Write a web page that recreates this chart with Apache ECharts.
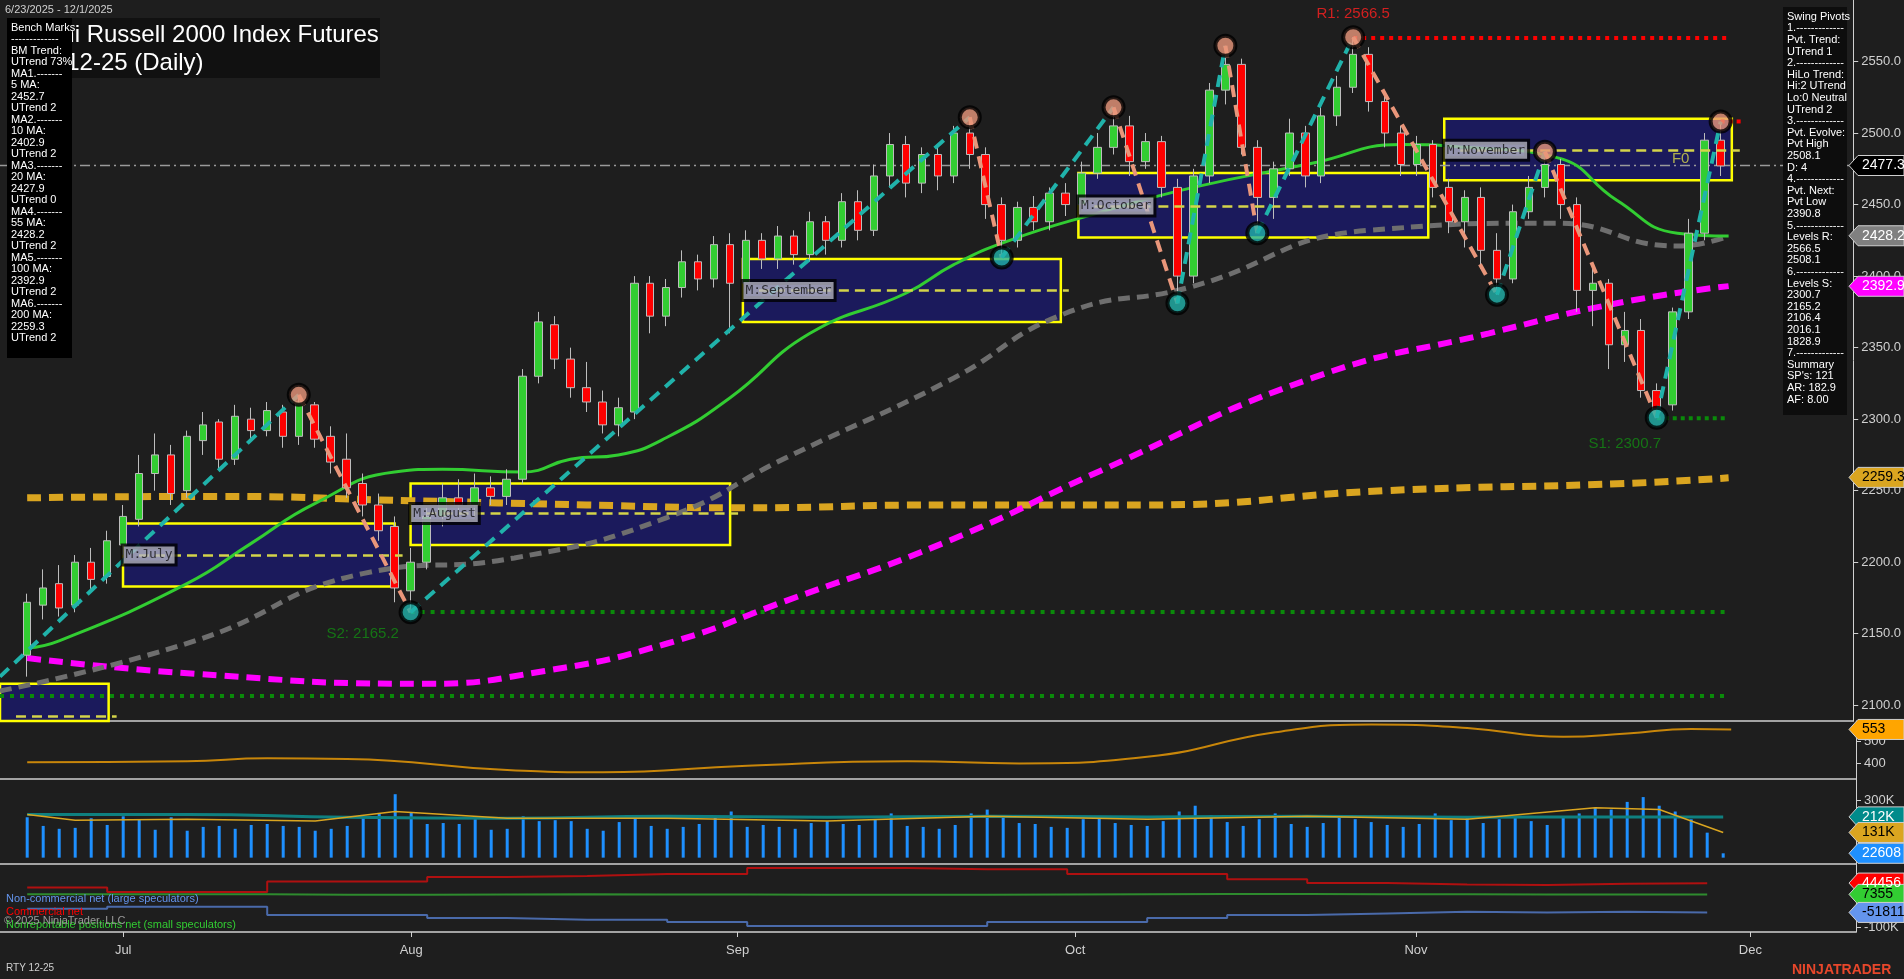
<!DOCTYPE html>
<html>
<head>
<meta charset="utf-8">
<script src="https://cdn.jsdelivr.net/npm/echarts@6/dist/echarts.min.js"></script>
<style>
html,body{margin:0;padding:0;background:#1e1e1e;}
#chart{width:1904px;height:979px;}
</style>
</head>
<body>
<div id="chart"></div>
<script>
// bars are numbered 0..106 from 6/23/2025, one per session
var candles = [ // [open, close, low, high]
[2135,2172,2120,2178],[2170,2182,2160,2195],[2185,2168,2162,2198],[2170,2200,2165,2205],[2200,2188,2180,2210],
[2190,2215,2185,2222],[2212,2232,2205,2240],[2230,2262,2225,2275],[2262,2275,2250,2290],[2275,2248,2240,2282],
[2250,2288,2245,2292],[2285,2296,2275,2305],[2298,2272,2265,2300],[2272,2302,2268,2310],[2300,2292,2285,2308],
[2292,2306,2288,2312],[2305,2288,2280,2310],[2288,2312,2282,2317],[2310,2286,2280,2312],[2288,2270,2262,2295],
[2272,2252,2245,2290],[2255,2240,2232,2262],[2240,2222,2215,2248],[2225,2182,2172,2232],[2180,2200,2165,2210],
[2200,2232,2195,2238],[2232,2245,2225,2255],[2245,2240,2235,2258],[2240,2252,2232,2262],[2252,2246,2240,2260],
[2246,2258,2240,2265],[2258,2330,2255,2335],[2330,2368,2325,2375],[2366,2342,2335,2372],[2342,2322,2315,2350],
[2322,2312,2305,2340],[2312,2296,2290,2320],[2296,2308,2288,2315],[2305,2395,2300,2400],[2395,2372,2360,2400],
[2372,2392,2365,2398],[2392,2410,2385,2418],[2410,2398,2390,2415],[2398,2422,2392,2428],[2422,2395,2360,2430],
[2395,2425,2390,2432],[2425,2412,2405,2430],[2412,2428,2405,2435],[2428,2415,2408,2432],[2415,2438,2410,2445],
[2438,2425,2415,2442],[2425,2452,2420,2458],[2452,2432,2425,2460],[2432,2470,2428,2478],[2470,2492,2462,2500],
[2492,2465,2455,2498],[2465,2485,2458,2490],[2485,2470,2460,2492],[2470,2500,2465,2505],[2500,2485,2475,2511],
[2485,2450,2440,2490],[2450,2425,2413,2455],[2425,2448,2420,2452],[2448,2438,2432,2456],[2438,2458,2432,2462],
[2458,2450,2442,2465],[2450,2472,2445,2480],[2472,2490,2468,2500],[2490,2505,2485,2518],[2505,2480,2470,2512],
[2480,2494,2475,2500],[2494,2462,2455,2498],[2462,2400,2381,2468],[2400,2470,2395,2475],[2470,2530,2465,2535],
[2530,2548,2520,2561],[2548,2490,2485,2552],[2490,2455,2430,2495],[2455,2475,2440,2480],[2475,2500,2470,2510],
[2500,2470,2462,2505],[2470,2512,2465,2520],[2512,2532,2505,2540],[2532,2555,2528,2567],[2555,2522,2515,2560],
[2522,2500,2490,2530],[2500,2478,2470,2505],[2478,2492,2470,2498],[2492,2462,2455,2495],[2462,2438,2430,2468],
[2438,2455,2420,2460],[2455,2418,2405,2462],[2418,2398,2387,2430],[2398,2445,2395,2450],[2445,2462,2440,2470],
[2462,2478,2455,2487],[2478,2450,2440,2482],[2450,2390,2375,2455],[2390,2395,2365,2405],[2395,2352,2335,2398],
[2352,2362,2340,2375],[2362,2320,2315,2370],[2320,2305,2301,2325],[2310,2375,2306,2378],[2375,2430,2370,2440],
[2430,2495,2425,2500],[2495,2477,2470,2508]
];
var volumeK = [210,165,150,155,205,170,215,200,145,210,140,160,165,150,170,175,165,160,140,150,165,210,230,330,235,
175,180,175,200,145,150,215,190,195,190,150,140,185,220,165,150,160,175,210,240,160,170,160,150,180,190,175,170,200,
230,165,160,150,170,230,250,210,180,175,160,155,200,210,180,170,165,190,240,270,220,185,165,200,230,175,160,180,210,
200,185,170,160,175,230,195,210,180,200,215,190,170,210,230,260,250,290,315,270,240,200,130,22.6];

// moving averages, sampled [bar, value]
var ma20 = [[0,2140],[2,2145],[10,2185],[14,2213],[18,2241],[23,2263],[26,2265],[31,2263],[34,2272],[37,2275],[40,2287],
[44,2315],[49,2360],[55,2388],[58,2408],[61.5,2425],[67,2444],[73,2462],[80.5,2479],[86,2492],[90,2490],[95.7,2483],[99.5,2453],[103.3,2430],[106.5,2428]];
var ma55 = [[-1.7,2110],[10.5,2145],[21,2192],[30.5,2203],[40,2231],[47.5,2273],[57.7,2327],[65,2374],[72.7,2392],[84,2432],[95.7,2437],[103.3,2421],[106.5,2428]];
var ma100 = [[0,2133],[10.5,2122],[24.8,2115],[32.4,2124],[40,2143],[47.5,2173],[57.7,2215],[67.2,2264],[80.5,2329],[91.5,2360],[99.5,2381],[106.5,2393]];
var ma200 = [[0,2245],[12,2246],[24,2243],[35,2240],[45,2238],[57,2240],[70,2240],[85,2250],[100,2255],[106.5,2259]];

var pivots = [[-1.7,2120],[17,2317],[24,2165],[59,2511],[61,2413],[68,2518],[72,2381],[75,2561],[77,2430],[83,2567],[92,2387],[95,2487],[102,2301],[106,2508]];

// monthly boxes [name, fromBar, toBar, low, high, mid]
var months = [
  ['', -1.7, 5.1, 2080, 2115, 2092],
  ['M:July', 6, 23, 2183, 2227, 2205],
  ['M:August', 24, 44, 2212, 2255, 2234],
  ['M:September', 44.8, 64.7, 2368, 2412, 2390],
  ['M:October', 65.8, 87.7, 2427, 2472, 2449],
  ['M:November', 88.7, 106.7, 2467, 2510, 2488]
];

var osc = [[0,405],[10,410],[15,423],[20,420],[30,370],[36,360],[45,390],[55,410],[62,400],[70,430],[78,540],[84,575],[90,560],[96,520],[100,535],[104,555],[106.5,553]];
var volAvgTeal = [[0,225],[10,225],[20,210],[30,205],[40,215],[50,210],[60,215],[70,212],[80,215],[90,210],[100,212],[106,212]];
var volAvgGold = [[0,225],[3,195],[10,200],[18,190],[23,240],[30,205],[40,205],[50,190],[60,215],[70,200],[80,215],[90,200],[98,260],[102,250],[106,131]];

var cotWeeks = [0,5,10,15,20,25,30,35,40,45,50,55,60,65,70,75,80,85,90,95,100,105];
var cotComm = [30,15,15,50,50,64,68,74,74,94,94,90,90,74,74,57,45,40,38,42,44,44.5];
var cotNonRep = [8,8,8,6,6,7,8,7,7,6,6,6,7,8,9,9,8,8,7,7,7,7.4];
var cotNonComm = [-40,-33,-33,-60,-60,-70,-76,-76,-83,-96,-96,-96,-83,-83,-70,-60,-55,-50,-52,-50,-52,-51.8];

var levelLabels = [[83,2583,'R1: 2566.5','#ff2020'],[21,2150,'S2: 2165.2','#138a13'],[100,2283,'S1: 2300.7','#138a13'],[103.5,2482,'F0','#d4d44a']];

var monthTicks = [6, 24, 44.4, 65.5, 86.8, 107.7];
var monthNames = ['Jul','Aug','Sep','Oct','Nov','Dec'];

var XMIN = -1.7, XMAX = 114.3;
var axisText = '#d0d0d0';

var grids = [
  {left:0, right:48, top:0, height:721},
  {left:0, right:48, top:721, height:58},
  {left:0, right:48, top:779, height:85},
  {left:0, right:48, top:864, height:68}
];
var xAxes = grids.map(function(g, i){
  return {type:'value', gridIndex:i, min:XMIN, max:XMAX,
    axisLine:{show:true, onZero:false, lineStyle:{color:'#d0d0d0', width:1.5}},
    splitLine:{show:false},
    axisTick:{show:i===3, customValues:monthTicks, lineStyle:{color:'#d0d0d0'}},
    axisLabel:{show:i===3, customValues:monthTicks, color:axisText, fontSize:13, margin:12,
      formatter:function(v){ var k = monthTicks.indexOf(v); return k>=0 ? monthNames[k] : ''; }}};
});
function yAx(i, min, max, ticks, fmt){
  return {type:'value', gridIndex:i, position:'right', min:min, max:max, scale:true,
    axisLine:{show:true, onZero:false, lineStyle:{color:'#d0d0d0'}}, splitLine:{show:false},
    axisTick:{show:true, customValues:ticks, lineStyle:{color:'#d0d0d0'}},
    axisLabel:{customValues:ticks, color:axisText, fontSize:13, formatter:fmt}};
}
var yAxes = [
  yAx(0, 2089, 2593, [2100,2150,2200,2250,2300,2350,2400,2450,2500,2550], function(v){return v.toFixed(1);}),
  yAx(1, 330, 591, [400,500], function(v){return String(v);}),
  yAx(2, -33, 409, [100,300], function(v){return v+'K';}),
  yAx(3, -116, 107, [-100], function(v){return v+'K';})
];

var series = [];
// monthly boxes
months.forEach(function(m){
  series.push({type:'line', xAxisIndex:0, yAxisIndex:0, data:[], silent:true,
    markArea:{silent:true, itemStyle:{color:'#1b1a5c', borderColor:'#ffff00', borderWidth:2.5},
      data:[[{coord:[m[1], m[3]]},{coord:[m[2], m[4]]}]]},
    markLine:{silent:true, symbol:'none', label:{show:false}, lineStyle:{color:'#d4d44a', type:[10,6], width:2.5},
      data:[[{coord:[m[1]+1, m[5]]},{coord:[m[2]+0.5, m[5]]}]]}, z:1});
});
// support / resistance and last price lines
function hline(y, x0, x1, color, type, w){
  return {type:'line', data:[[x0,y],[x1,y]], symbol:'none', silent:true, lineStyle:{color:color, type:type, width:w}, z:2};
}
series.push(hline(2106.4, XMIN, 106.5, '#0a8a0a', [4,6], 4));
series.push(hline(2165.2, 24, 106.5, '#0a8a0a', [4,6], 4));
series.push(hline(2300.7, 102, 106.5, '#0a8a0a', [4,4], 4));
series.push(hline(2566.5, 83, 106.5, '#ff0000', [4,5], 4));
series.push(hline(2508.1, 106, 107.5, '#ff0000', [4,4], 4));
series.push(hline(2477.3, XMIN, XMAX, '#9a9a9a', [10,4,2,4], 1.5));

// moving averages
function maLine(d, color, w, type){
  return {type:'line', data:d, smooth:true, symbol:'none', silent:true, lineStyle:{color:color, width:w, type:type}, z:3};
}
series.push(maLine(ma200, '#daa520', 7, [14,8]));
series.push(maLine(ma100, '#ff00ff', 6, [14,8]));
series.push(maLine(ma55, '#6e6e6e', 5, [12,7]));
series.push(maLine(ma20, '#32cd32', 3, 'solid'));

// candles
series.push({type:'candlestick', xAxisIndex:0, yAxisIndex:0, barWidth:8, z:4,
  data:candles.map(function(c, i){ return [i, c[0], c[1], c[2], c[3]]; }),
  encode:{x:0, y:[1,2,3,4]},
  itemStyle:{color:'#32cd32', color0:'#ff0000', borderColor:'#bdbdbd', borderColor0:'#bdbdbd', borderWidth:1}});

// zigzag legs
for (var i = 0; i < pivots.length - 1; i++) {
  var up = pivots[i+1][1] > pivots[i][1];
  series.push({type:'line', data:[pivots[i], pivots[i+1]], symbol:'none', silent:true, z:5,
    lineStyle:{color: up ? '#20b2aa' : '#e9967a', width:4, type:[12,8]}});
}
series.push({type:'scatter', data:pivots.slice(1).map(function(p, i){
    var hi = i % 2 === 0;
    return {value:p, itemStyle:{color: hi ? '#e9967a' : '#20b2aa', borderColor:'#000', borderWidth:4}};
  }), symbolSize:20, z:6, silent:true});

// month labels
series.push({type:'scatter', symbolSize:0, z:7, silent:true,
  data:months.filter(function(m){return m[0];}).map(function(m){ return [m[1]+0.1, m[5], m[0]]; }),
  label:{show:true, position:'right', offset:[-6,0], formatter:function(p){return p.data[2];},
    fontFamily:'DejaVu Sans Mono', fontSize:13, color:'#111', backgroundColor:'#b4b4c4',
    borderColor:'#000', borderWidth:3, padding:[2,2]}});
// level labels
series.push({type:'scatter', symbolSize:0, z:7, silent:true,
  data:levelLabels.map(function(d){
    return {value:[d[0], d[1]], name:d[2], label:{color:d[3]}};
  }),
  label:{show:true, position:'inside', formatter:function(p){return p.name;}, fontSize:15}});

// oscillator panel
series.push({type:'line', xAxisIndex:1, yAxisIndex:1, data:osc, smooth:true, symbol:'none', lineStyle:{color:'#c8860a', width:2}});
// volume panel
series.push({type:'bar', xAxisIndex:2, yAxisIndex:2, barWidth:3, data:volumeK.map(function(v, i){return [i, v];}), itemStyle:{color:'#1e90ff'}});
series.push({type:'line', xAxisIndex:2, yAxisIndex:2, data:volAvgTeal, smooth:true, symbol:'none', lineStyle:{color:'#0f8080', width:3}});
series.push({type:'line', xAxisIndex:2, yAxisIndex:2, data:volAvgGold, symbol:'none', lineStyle:{color:'#daa520', width:1.5}});
// COT panel
function cot(vals, color){
  return {type:'line', xAxisIndex:3, yAxisIndex:3, step:'end', symbol:'none', lineStyle:{color:color, width:2},
    data:cotWeeks.map(function(w, i){ return [w, vals[i]]; })};
}
series.push(cot(cotComm, '#b01010'));
series.push(cot(cotNonRep, '#2e8b2e'));
series.push(cot(cotNonComm, '#4a6aaa'));

var chart = echarts.init(document.getElementById('chart'));
chart.setOption({
  backgroundColor:'#1e1e1e', animation:false,
  grid:grids, xAxis:xAxes, yAxis:yAxes, series:series
});

// right-hand value tags
var tags = [
  [0, 2477.3, '2477.3', '#000000', '#ffffff'],
  [0, 2428.2, '2428.2', '#808080', '#ffffff'],
  [0, 2392.9, '2392.9', '#ff00ff', '#ffffff'],
  [0, 2259.3, '2259.3', '#daa520', '#000000'],
  [1, 553, '553', '#ffa500', '#000000'],
  [2, 212, '212K', '#008b8b', '#ffffff'],
  [2, 131, '131K', '#daa520', '#000000'],
  [2, 22.6, '22608', '#1e90ff', '#ffffff'],
  [3, 44.456, '44456', '#ff0000', '#ffffff'],
  [3, 7.355, '7355', '#32cd32', '#000000'],
  [3, -51.811, '-51811', '#6495ed', '#000000']
];
var g = [];
tags.forEach(function(t){
  var y = chart.convertToPixel({yAxisIndex:t[0]}, t[1]);
  g.push({type:'polygon', z:100, shape:{points:[[1849,y],[1858,y-10],[1904,y-10],[1904,y+10],[1858,y+10]]},
    style:{fill:t[3], stroke:'#cfcfcf', lineWidth:1}});
  g.push({type:'text', z:101, x:1862, y:y, style:{text:t[2], fill:t[4], font:'14px Arial', verticalAlign:'middle'}});
});
var bench = 'Bench Marks\n-------------\nBM Trend:\nUTrend 73%\nMA1.-------\n5 MA:\n2452.7\nUTrend 2\nMA2.-------\n10 MA:\n2402.9\nUTrend 2\nMA3.-------\n20 MA:\n2427.9\nUTrend 0\nMA4.-------\n55 MA:\n2428.2\nUTrend 2\nMA5.-------\n100 MA:\n2392.9\nUTrend 2\nMA6.-------\n200 MA:\n2259.3\nUTrend 2';
var swing = 'Swing Pivots\n1.-------------\nPvt. Trend:\nUTrend 1\n2.-------------\nHiLo Trend:\nHi:2 UTrend\nLo:0 Neutral\nUTrend 2\n3.-------------\nPvt. Evolve:\nPvt High\n2508.1\nD: 4\n4.-------------\nPvt. Next:\nPvt Low\n2390.8\n5.-------------\nLevels R:\n2566.5\n2508.1\n6.-------------\nLevels S:\n2300.7\n2165.2\n2106.4\n2016.1\n1828.9\n7.-------------\nSummary\nSP\'s: 121\nAR: 182.9\nAF: 8.00';
g.push(
  {type:'rect', z:90, shape:{x:70, y:18, width:310, height:60}, style:{fill:'#111'}},
  {type:'text', z:91, x:12, y:23, style:{text:'E-mini Russell 2000 Index Futures', fill:'#fff', font:'24px Arial'}},
  {type:'text', z:91, x:12, y:51, style:{text:'RTY 12-25 (Daily)', fill:'#fff', font:'24px Arial'}},
  {type:'text', z:91, x:5, y:4, style:{text:'6/23/2025 - 12/1/2025', fill:'#d0d0d0', font:'11px Arial'}},
  {type:'rect', z:92, shape:{x:7, y:18, width:65, height:340}, style:{fill:'#000'}},
  {type:'text', z:93, x:11, y:22, style:{text:bench, fill:'#fff', font:'11px Arial', lineHeight:11.5}},
  {type:'rect', z:92, shape:{x:1783, y:7, width:64, height:408}, style:{fill:'#0d0d0d'}},
  {type:'text', z:93, x:1787, y:11, style:{text:swing, fill:'#fff', font:'11px Arial', lineHeight:11.6}},
  {type:'text', z:93, x:6, y:893, style:{text:'Non-commercial net (large speculators)', fill:'#6495ed', font:'11px Arial'}},
  {type:'text', z:93, x:6, y:906, style:{text:'Commercial net', fill:'#ff0000', font:'11px Arial'}},
  {type:'text', z:93, x:6, y:919, style:{text:'Nonreportable positions net (small speculators)', fill:'#32cd32', font:'11px Arial'}},
  {type:'text', z:94, x:4, y:915, style:{text:'\u00a9 2025 NinjaTrader, LLC', fill:'#9a9a9a', font:'11px Arial'}},
  {type:'text', z:93, x:6, y:963, style:{text:'RTY 12-25', fill:'#d0d0d0', font:'10px Arial'}},
  {type:'text', z:93, x:1792, y:963, style:{text:'NINJATRADER', fill:'#e8472b', font:'bold 14px Arial'}}
);
chart.setOption({graphic:g});
</script>
</body>
</html>
